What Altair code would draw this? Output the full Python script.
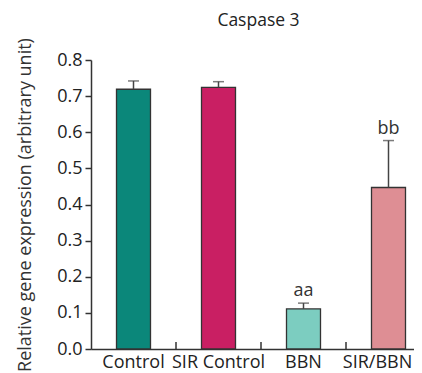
import altair as alt
import pandas as pd

categories = ["Control", "SIR Control", "BBN", "SIR/BBN"]
means = [0.719, 0.724, 0.111, 0.447]
errors = [0.023, 0.016, 0.016, 0.130]
sig_labels = ["", "", "aa", "bb"]
colors = ["#0b877a", "#c91f63", "#7ccdc0", "#de8e94"]
y_ticks = [0.0, 0.1, 0.2, 0.3, 0.4, 0.5, 0.6, 0.7, 0.8]
boundaries = categories[1:]

df = pd.DataFrame({
    "cat": categories,
    "mean": means,
    "upper": [m + e for m, e in zip(means, errors)],
    "sig": sig_labels,
})
bdf = pd.DataFrame({"cat": boundaries})

FONT = "Open Sans"
INK = "#333333"
H = 289
FS = 18

xscale = alt.Scale(domain=categories, range=[0, 340], paddingInner=0.6, paddingOuter=0.3)
xaxis = alt.Axis(title=None, labelAngle=0, ticks=False, labelFontSize=FS,
                 labelFont=FONT, labelColor="#222222", labelPadding=4,
                 labelOverlap=False, labelBound=False,
                 labelOffset={"condition": {"test": "datum.value == 'SIR/BBN'", "value": -11}, "value": 0},
                 domainColor=INK, domainWidth=1.5)
yscale = alt.Scale(domain=[0, 0.8], nice=False)
yaxis = alt.Axis(values=y_ticks, format=".1f", tickSize=6, tickColor=INK, tickWidth=1.5,
                 labelFontSize=FS, labelFont=FONT, labelColor="#222222", labelPadding=3,
                 labelOverlap=False,
                 domainColor=INK, domainWidth=1.5, grid=False,
                 title="Relative gene expression (arbitrary unit)",
                 titleFont=FONT, titleFontSize=18, titleFontWeight="normal",
                 titleColor="#333333", titlePadding=22)

def X():
    return alt.X("cat:N", sort=categories, scale=xscale, axis=xaxis)

def Y(field):
    return alt.Y(field, scale=yscale, axis=yaxis)

bars = alt.Chart(df).mark_bar(stroke=INK, strokeWidth=1.3).encode(
    x=X(), y=Y("mean:Q"),
    color=alt.Color("cat:N", scale=alt.Scale(domain=categories, range=colors), legend=None),
)
err = alt.Chart(df).mark_rule(color="#444444", strokeWidth=1.5).encode(
    x=X(), y=Y("mean:Q"), y2="upper:Q")
caps = alt.Chart(df).mark_tick(color="#444444", thickness=1.5, size=11).encode(
    x=X(), y=Y("upper:Q"))
txt = alt.Chart(df).mark_text(font=FONT, fontSize=FS, color="#333333", baseline="bottom", dy=-3).encode(
    x=X(), y=Y("upper:Q"), text="sig:N")
ticks = alt.Chart(bdf).mark_rule(color=INK, strokeWidth=1.5, xOffset=-25.5).encode(
    x=alt.X("cat:N", sort=categories, scale=xscale, axis=xaxis, bandPosition=0),
    y=alt.value(H), y2=alt.value(H - 7))

chart = alt.layer(bars, err, caps, txt, ticks).properties(
    width=323, height=H,
    autosize=alt.AutoSizeParams(type="none"),
    padding={"left": 83, "top": 52, "right": 0, "bottom": 24},
    title=alt.TitleParams("Caspase 3", font=FONT, fontSize=17.5, fontWeight="normal",
                          color="#222222", anchor="middle", offset=8, dx=6),
).configure_view(stroke=None)

chart.save("out.html", embed_options={"renderer": "svg", "actions": False})
